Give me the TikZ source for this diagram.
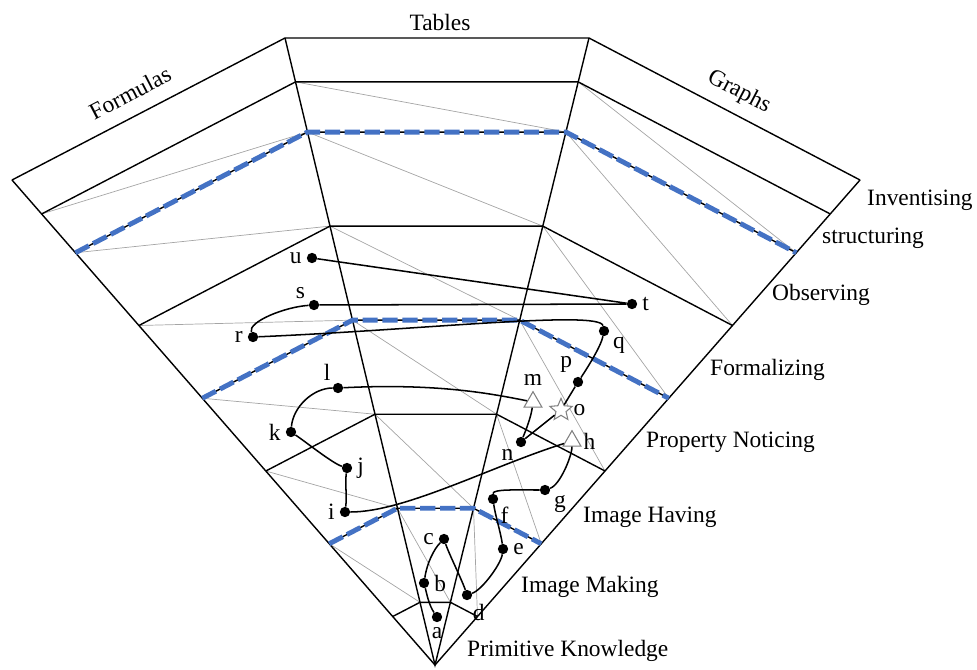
\documentclass[tikz,border=0pt]{standalone}
\usepackage{fontspec}
\setmainfont{Liberation Serif}
\usetikzlibrary{calc,shapes.geometric}

\definecolor{lineblue}{RGB}{68,114,196}
\definecolor{diaggray}{RGB}{165,165,165}

\begin{document}
\begin{tikzpicture}[x=0.03cm,y=-0.03cm,
    font=\fontsize{20}{24}\selectfont,
    frame/.style={line width=1.2pt},
    diag/.style={diaggray,line width=0.6pt},
    blueline/.style={lineblue,line width=4.2pt,dash pattern=on 13pt off 4pt},
    route/.style={line width=1.3pt},
    dotnode/.style={circle,fill,inner sep=0pt,minimum size=0.31cm},
    tri/.style={regular polygon,regular polygon sides=3,draw=gray,fill=white,
      line width=0.9pt,inner sep=0pt,minimum size=0.62cm},
    starnode/.style={star,star points=5,star point ratio=2.2,draw=gray,fill=white,
      line width=0.9pt,inner sep=0pt,minimum size=0.7cm},
    lbl/.style={inner sep=1pt,label distance=3pt},
    layer/.style={anchor=west,inner sep=0pt}]
  \useasboundingbox (0,0) rectangle (977,669);

  % apex and outer corners of the fan
  \coordinate (O) at (435,665);
  \coordinate (L) at (12,180);
  \coordinate (TL) at (285,38);
  \coordinate (TR) at (589,38);
  \coordinate (R) at (860,180);

  % layer points on the four rays
  \foreach \k/\f in {1/1,2/0.93,3/0.85,4/0.7,5/0.55,6/0.4,7/0.25,8/0.1}{
    \coordinate (L\k) at ($(O)!\f!(L)$);
    \coordinate (A\k) at ($(O)!\f!(TL)$);
    \coordinate (B\k) at ($(O)!\f!(TR)$);
    \coordinate (R\k) at ($(O)!\f!(R)$);
  }

  % thin diagonals in the cells
  \foreach \k/\n in {2/3,3/4,4/5,5/6,6/7,7/8}{
    \draw[diag] (L\k) -- (A\n);
    \draw[diag] (A\k) -- (B\n);
    \draw[diag] (B\k) -- (R\n);
  }

  % rays and layers
  \draw[frame] (L) -- (O) -- (R);
  \draw[frame] (TL) -- (O) -- (TR);
  \foreach \k in {1,...,8}
    \draw[frame] (L\k) -- (A\k) -- (B\k) -- (R\k);

  % dashed blue layers
  \foreach \k in {3,5,7}
    \draw[blueline] (L\k) -- (A\k) -- (B\k) -- (R\k);

  % representations
  \node[rotate=27.5] (formulas) at (130,93) {Formulas};
  \node (tables) at (440,22) {Tables};
  \node[rotate=-27.6] (graphs) at (739,92) {Graphs};

  % layer names
  \node[layer] (inv) at (867,200) {Inventising};
  \node[layer] (str) at (822,238) {structuring};
  \node[layer] (obs) at (772,295) {Observing};
  \node[layer] (frm) at (710,370) {Formalizing};
  \node[layer] (pn) at (646,442) {Property Noticing};
  \node[layer] (ih) at (583,517) {Image Having};
  \node[layer] (im) at (521,587) {Image Making};
  \node[layer] (pk) at (467,651) {Primitive Knowledge};

  % growth points
  \node[dotnode,label={[lbl]below:a}] (a) at (437,617) {};
  \node[dotnode,label={[lbl]right:b}] (b) at (424,583) {};
  \node[dotnode,label={[lbl]left:c}] (c) at (444,539) {};
  \node[dotnode,label={[lbl]-60:d}] (d) at (467,595) {};
  \node[dotnode,label={[lbl]right:e}] (e) at (503,549) {};
  \node[dotnode,label={[lbl]-45:f}] (f) at (493,499) {};
  \node[dotnode,label={[lbl]-30:g}] (g) at (545,490) {};
  \node[tri,label={[lbl]right:h}] (h) at (572,441) {};
  \node[dotnode,label={[lbl]left:i}] (i) at (345,512) {};
  \node[dotnode,label={[lbl]right:j}] (j) at (347,468) {};
  \node[dotnode,label={[lbl]left:k}] (k) at (291,432) {};
  \node[dotnode,label={[lbl]135:l}] (l) at (338,388) {};
  \node[tri,label={[lbl]above:m}] (m) at (533,402) {};
  \node[dotnode,label={[lbl]-135:n}] (n) at (521,442) {};
  \node[starnode,label={[lbl]right:o}] (o) at (561,410) {};
  \node[dotnode,label={[lbl]120:p}] (p) at (578,382) {};
  \node[dotnode,label={[lbl]-30:q}] (q) at (604,331) {};
  \node[dotnode,label={[lbl]left:r}] (r) at (253,337) {};
  \node[dotnode,label={[lbl]150:s}] (s) at (314,305) {};
  \node[dotnode,label={[lbl]right:t}] (t) at (632,304) {};
  \node[dotnode,label={[lbl]left:u}] (u) at (312,258) {};

  % path through the points
  \draw[route] (a) .. controls +(-8,-12) and +(3,12) .. (b)
    .. controls +(3,-20) and +(-10,10) .. (c)
    .. controls +(5,15) and +(-5,-15) .. (d)
    .. controls +(15,-5) and +(-2,15) .. (e)
    .. controls +(-2,-15) and +(2,15) .. (f)
    .. controls +(0,-10) and +(-30,0) .. (g)
    .. controls +(15,-5) and +(0,15) .. (h)
    .. controls +(-80,25) and +(60,0) .. (i)
    .. controls +(2,-15) and +(-2,15) .. (j)
    .. controls +(-15,-5) and +(15,10) .. (k)
    .. controls +(2,-25) and +(-25,0) .. (l)
    .. controls +(100,-5) and +(-40,-8) .. (m)
    .. controls +(-2,15) and +(5,-12) .. (n)
    -- (o) -- (p)
    .. controls +(10,-15) and +(-3,15) .. (q)
    .. controls +(-4,-21) and +(167,-7) .. (r)
    .. controls +(-5,-15) and +(-30,2) .. (s)
    -- (t) -- (u);
\end{tikzpicture}
\end{document}
